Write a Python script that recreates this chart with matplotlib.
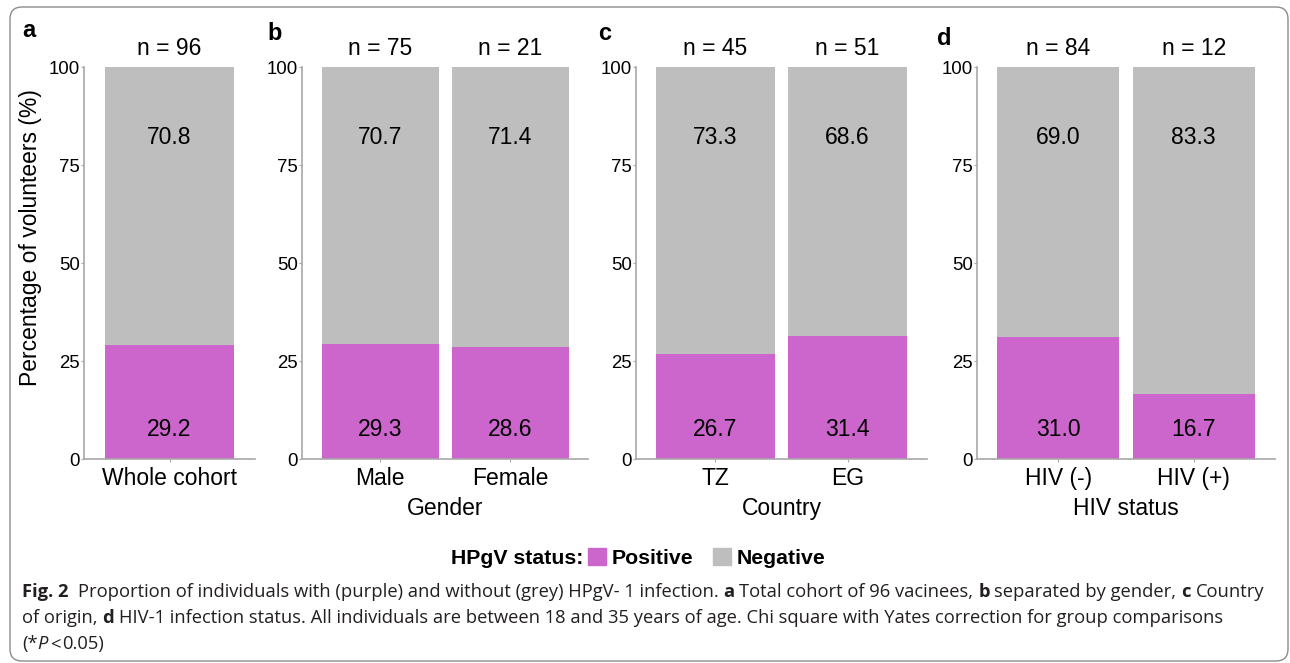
import matplotlib
matplotlib.use("Agg")
import matplotlib.pyplot as plt
from matplotlib.patches import FancyBboxPatch, Patch
from matplotlib import transforms

plt.rcParams["font.family"] = ["Liberation Sans", "DejaVu Sans"]

# HPgV status by group (percent of volunteers)
whole_labels = ["Whole cohort"]
whole_pos = [29.2]
whole_neg = [70.8]
whole_n = [96]

gender_labels = ["Male", "Female"]
gender_pos = [29.3, 28.6]
gender_neg = [70.7, 71.4]
gender_n = [75, 21]

country_labels = ["TZ", "EG"]
country_pos = [26.7, 31.4]
country_neg = [73.3, 68.6]
country_n = [45, 51]

hiv_labels = ["HIV (-)", "HIV (+)"]
hiv_pos = [31.0, 16.7]
hiv_neg = [69.0, 83.3]
hiv_n = [84, 12]

yticks = [0, 25, 50, 75, 100]

POS_COLOR = "#CC66CC"
NEG_COLOR = "#BEBEBE"
AXIS_COLOR = "#A8A8A8"
FS = 16.5

W, H = 1290, 663
fig = plt.figure(figsize=(W / 100, H / 100), dpi=100)


def px_axes(x0, x1, ytop=67, ybot=459):
    return [x0 / W, 1 - ybot / H, (x1 - x0) / W, (ybot - ytop) / H]


def draw_panel(letter, labels, pos, neg, ns, xlabel, xr, letter_xy):
    ax = fig.add_axes(px_axes(*xr))
    x = list(range(len(labels)))
    ax.bar(x, pos, width=0.9, color=POS_COLOR, zorder=2)
    ax.bar(x, neg, bottom=pos, width=0.9, color=NEG_COLOR, zorder=2)
    ax.set_xlim(-0.6, len(labels) - 0.4)
    ax.set_ylim(0, 100)
    ax.set_yticks(yticks)
    ax.set_xticks(x)
    ax.set_xticklabels(labels, fontsize=FS)
    ax.tick_params(axis="y", labelsize=13.4, length=2, width=0.8,
                   color=AXIS_COLOR, pad=1)
    ax.tick_params(axis="x", length=2, width=0.8, color=AXIS_COLOR, pad=4)
    for side in ("top", "right"):
        ax.spines[side].set_visible(False)
    for side in ("left", "bottom"):
        ax.spines[side].set_color(AXIS_COLOR)
        ax.spines[side].set_linewidth(1.2)
    if xlabel:
        ax.set_xlabel(xlabel, fontsize=FS, labelpad=4.5)
    trans = transforms.blended_transform_factory(ax.transData, ax.transAxes)
    for i in x:
        ax.text(i, 7.5, f"{pos[i]:.1f}", ha="center", va="center",
                fontsize=FS, zorder=3)
        ax.text(i, 82, f"{neg[i]:.1f}", ha="center", va="center",
                fontsize=FS, zorder=3)
        ax.text(i, 1.048, f"n = {ns[i]}", transform=trans, ha="center",
                va="center", fontsize=FS)
    fig.text(letter_xy[0] / W, 1 - letter_xy[1] / H, letter, fontsize=17,
             fontweight="bold", ha="left", va="baseline")
    return ax


draw_panel("a", whole_labels, whole_pos, whole_neg, whole_n, "",
           (84, 255), (22, 37))
draw_panel("b", gender_labels, gender_pos, gender_neg, gender_n, "Gender",
           (302, 588), (267, 40))
draw_panel("c", country_labels, country_pos, country_neg, country_n,
           "Country", (636, 927), (598, 40))
draw_panel("d", hiv_labels, hiv_pos, hiv_neg, hiv_n, "HIV status",
           (977, 1275), (937, 45))

fig.text(31 / W, 1 - 238 / H, "Percentage of volunteers (%)", rotation=90,
         fontsize=FS, ha="center", va="center")

# legend row
fig.text(583 / W, 1 - 558 / H, "HPgV status:", fontsize=15.3,
         fontweight="bold", ha="right", va="center")
handles = [Patch(color=POS_COLOR), Patch(color=NEG_COLOR)]
fig.legend(handles, ["Positive", "Negative"], ncol=2, frameon=False,
           loc="center left", bbox_to_anchor=(588 / W, 1 - 558 / H),
           prop={"size": 15.3, "weight": "bold"}, handlelength=0.85,
           handleheight=0.85, handletextpad=0.25, columnspacing=0.95,
           borderpad=0, borderaxespad=0)

# caption with mixed bold / italic runs
renderer = fig.canvas.get_renderer()
CAP = dict(family=["Open Sans", "DejaVu Sans"], fontsize=13.2,
           color="#231F20")


def text_width(s, **kw):
    t = fig.text(0, 0, s, **kw)
    w = t.get_window_extent(renderer).width
    t.remove()
    return w


space_w = text_width("x x", **CAP) - text_width("xx", **CAP)


def draw_runs(x, y, runs):
    for s, weight, style, nudge in runs:
        lead = len(s) - len(s.lstrip(" "))
        trail = len(s) - len(s.rstrip(" "))
        x += lead * space_w + nudge
        core = s.strip(" ")
        t = fig.text(x / W, 1 - y / H, core, fontweight=weight,
                     fontstyle=style, va="baseline", ha="left", **CAP)
        x += t.get_window_extent(renderer).width + trail * space_w


N, B, I = "normal", "bold", "italic"
draw_runs(22, 597, [
    ("Fig. 2", B, N, 0),
    ("  Proportion of individuals with (purple) and without (grey) "
     "HPgV- 1 infection. ", N, N, 0),
    ("a", B, N, 0), (" Total cohort of 96 vacinees, ", N, N, 0),
    ("b", B, N, 0), (" separated by gender, ", N, N, 0),
    ("c", B, N, 0), (" Country", N, N, 0),
])
draw_runs(22, 623, [
    ("of origin, ", N, N, 0), ("d", B, N, 0),
    (" HIV-1 infection status. All individuals are between 18 and 35 years "
     "of age. Chi square with Yates correction for group comparisons",
     N, N, 0),
])
draw_runs(22, 649, [("(*", N, N, 0), ("P", N, I, 0),
                    ("<", N, N, 2), ("0.05)", N, N, 2)])

frame = FancyBboxPatch((0.10, 0.02), 12.78, 6.54,
                       boxstyle="round,pad=0,rounding_size=0.12",
                       transform=fig.dpi_scale_trans, fill=False,
                       ec="#8C8C8C", lw=1.0)
fig.add_artist(frame)

fig.savefig("out.png", dpi=100)
